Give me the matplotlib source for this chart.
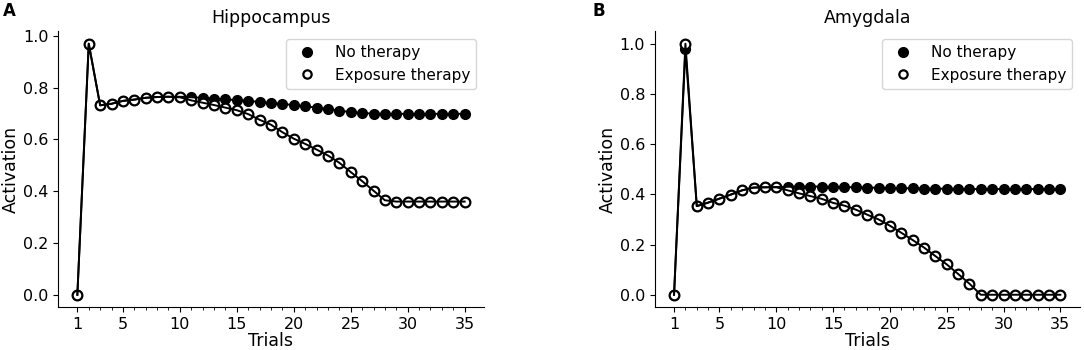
import matplotlib
matplotlib.use("Agg")
import matplotlib.pyplot as plt
from matplotlib.lines import Line2D
import numpy as np

trials = list(range(1, 36))

hip_no_therapy = [0.0, 0.97, 0.732, 0.738, 0.749, 0.754, 0.761, 0.764, 0.765, 0.765,
                  0.763, 0.761, 0.758, 0.755, 0.752, 0.749, 0.745, 0.741, 0.737, 0.733,
                  0.728, 0.723, 0.717, 0.711, 0.706, 0.702, 0.700, 0.699, 0.699, 0.699,
                  0.699, 0.699, 0.699, 0.699, 0.699]
hip_exposure = [0.0, 0.97, 0.732, 0.738, 0.749, 0.754, 0.761, 0.764, 0.765, 0.763,
                0.751, 0.742, 0.733, 0.723, 0.713, 0.698, 0.676, 0.657, 0.628, 0.603,
                0.583, 0.561, 0.538, 0.510, 0.474, 0.439, 0.402, 0.365, 0.360, 0.360,
                0.360, 0.360, 0.360, 0.360, 0.360]

amy_no_therapy = [0.0, 0.978, 0.353, 0.367, 0.383, 0.399, 0.416, 0.427, 0.428, 0.429,
                  0.430, 0.431, 0.431, 0.431, 0.430, 0.429, 0.428, 0.427, 0.426, 0.425,
                  0.424, 0.424, 0.423, 0.423, 0.422, 0.422, 0.421, 0.421, 0.421, 0.421,
                  0.421, 0.421, 0.421, 0.421, 0.421]
amy_exposure = [0.0, 1.0, 0.353, 0.367, 0.383, 0.399, 0.416, 0.427, 0.428, 0.428,
                0.416, 0.404, 0.393, 0.382, 0.366, 0.355, 0.339, 0.319, 0.300, 0.275,
                0.247, 0.218, 0.188, 0.154, 0.121, 0.083, 0.044, 0.0, 0.0, 0.0,
                0.0, 0.0, 0.0, 0.0, 0.0]

panels = [("Hippocampus", "A", hip_no_therapy, hip_exposure),
          ("Amygdala", "B", amy_no_therapy, amy_exposure)]
major_ticks = [1, 5, 10, 15, 20, 25, 30, 35]
series_labels = ["No therapy", "Exposure therapy"]

plt.rcParams['font.family'] = ['DejaVu Sans']
fig = plt.figure(figsize=(10.84, 3.5), dpi=100)
axes_pos = [[0.0535, 0.122, 0.393, 0.789], [0.604, 0.122, 0.392, 0.789]]
label_x = [0.003, 0.547]

for pos, lx, (title, letter, nt, ex) in zip(axes_pos, label_x, panels):
    ax = fig.add_axes(pos)
    ax.plot(trials, nt, 'o', color='black', markersize=7, zorder=2)
    ax.plot(trials, ex, 'o', markerfacecolor='white', markeredgecolor='black',
            markeredgewidth=1.6, markersize=7, zorder=3)
    ax.plot(trials, nt, '-', color='black', linewidth=1.4, zorder=4)
    ax.plot(trials, ex, '-', color='black', linewidth=1.4, zorder=4)
    ax.set_xticks(major_ticks)
    ax.set_xticks(trials, minor=True)
    ax.set_yticks([0.0, 0.2, 0.4, 0.6, 0.8, 1.0])
    ax.tick_params(labelsize=11.5)
    ax.spines['top'].set_visible(False)
    ax.spines['right'].set_visible(False)
    ax.set_xlabel("Trials", fontsize=12.5, labelpad=0)
    ax.set_ylabel("Activation", fontsize=12.5, labelpad=2)
    ax.set_title(title, fontsize=12.5)
    handles = [Line2D([], [], linestyle='none', marker='o', color='black', markersize=7),
               Line2D([], [], linestyle='none', marker='o', markerfacecolor='white',
                      markeredgecolor='black', markeredgewidth=1.6, markersize=6)]
    ax.legend(handles, series_labels, loc='upper right', fontsize=11)
    fig.text(lx, 0.955, letter, fontsize=12, fontweight='bold')

fig.savefig("out.png", dpi=100)
